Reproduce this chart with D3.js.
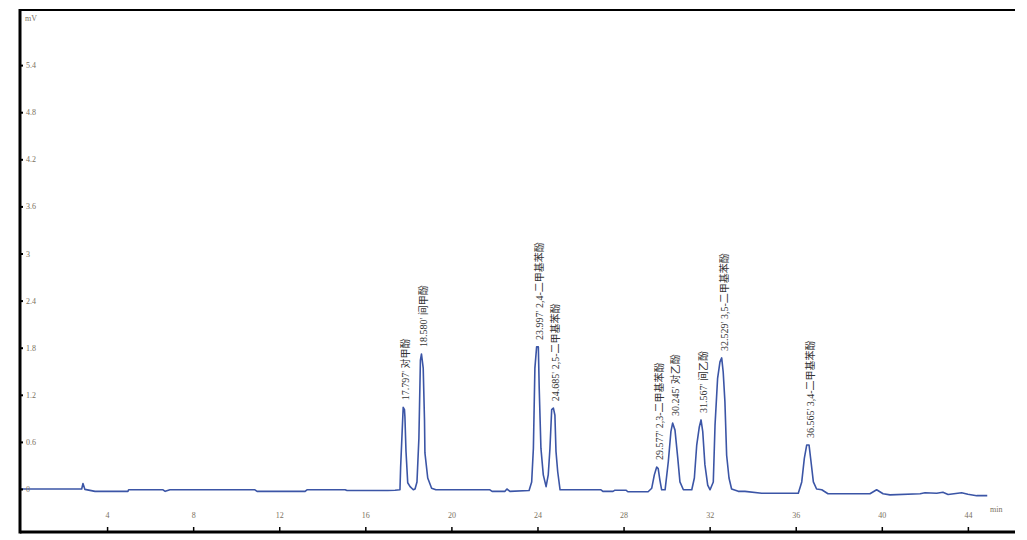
<!DOCTYPE html>
<html>
<head>
<meta charset="utf-8">
<script src="https://cdn.jsdelivr.net/npm/d3@7"></script>
<style>
  body { margin: 0; background: #fff; }
  svg { display: block; }
  .tick-label { font-family: "Liberation Serif", "Noto Sans CJK SC", serif; font-size: 8px; fill: #7a7060; }
  .peak-label { font-family: "Liberation Serif", "Noto Sans CJK SC", serif; font-size: 10px; fill: #333; }
</style>
</head>
<body>
<div id="chart"></div>
<script>
// chromatogram trace (time in min, signal in mV)
const times = [0, 2.82, 2.88, 2.97, 3.44, 4.97, 5.0, 6.6, 6.7, 6.92, 10.87, 10.97, 13.2, 13.29, 15.06, 15.15, 17.05, 17.38,
  17.61, 17.64, 17.76, 17.82, 17.84, 17.89, 17.97, 18.08, 18.23,
  18.31, 18.4, 18.49, 18.56, 18.61, 18.69, 18.75, 18.77, 18.9, 19.08, 19.28,
  21.79, 21.89, 22.49, 22.58, 22.72, 23.61,
  23.73, 23.81, 23.88, 23.96, 24.04, 24.08, 24.16, 24.27, 24.4,
  24.5, 24.58, 24.66, 24.74, 24.81, 24.86, 24.94, 25.05,
  26.95, 27.04, 27.51, 27.6, 28.11, 28.2, 29.14,
  29.31, 29.43, 29.54, 29.61, 29.69, 29.77, 29.93,
  30.08, 30.2, 30.28, 30.39, 30.52, 30.62, 30.78, 31.17,
  31.29, 31.4, 31.52, 31.6, 31.68, 31.78, 31.91, 32.02,
  32.17, 32.25, 32.37, 32.48, 32.56, 32.63, 32.71, 32.79, 32.9, 33.02, 33.33, 33.64, 34.42, 36.12,
  36.28, 36.4, 36.51, 36.62, 36.71, 36.82, 36.97, 37.21,
  37.5, 39.45, 39.76, 40.06, 40.38, 41.78, 42.01, 42.55, 42.84, 43.08, 43.71, 44.0, 44.41, 44.9];
const signal = [0, 0, 0.07, -0.005, -0.03, -0.03, -0.01, -0.01, -0.03, -0.01, -0.01, -0.03, -0.03, -0.01, -0.01, -0.02, -0.02, -0.015,
  -0.01, 0.27, 1.04, 1.01, 0.92, 0.48, 0.08, 0.03, -0.01,
  0, 0.09, 0.65, 1.64, 1.72, 1.54, 0.88, 0.46, 0.14, 0.01, -0.01,
  -0.01, -0.03, -0.03, 0.0, -0.03, -0.02,
  0.09, 0.52, 1.54, 1.81, 1.81, 1.29, 0.52, 0.18, 0.03,
  0.18, 0.52, 1.01, 1.03, 0.94, 0.48, 0.22, -0.01,
  -0.01, -0.03, -0.03, -0.015, -0.015, -0.035, -0.035,
  0.01, 0.18, 0.28, 0.26, 0.11, -0.01, -0.01,
  0.35, 0.73, 0.84, 0.75, 0.39, 0.09, -0.01, -0.01,
  0.14, 0.56, 0.79, 0.88, 0.73, 0.31, 0.05, -0.01,
  0.09, 0.81, 1.41, 1.62, 1.67, 1.49, 1.11, 0.43, 0.14, 0.0, -0.03, -0.03, -0.055, -0.055,
  0.09, 0.39, 0.56, 0.56, 0.35, 0.09, 0.0, -0.01,
  -0.06, -0.06, -0.01, -0.06, -0.075, -0.06, -0.047, -0.055, -0.042, -0.07, -0.047, -0.067, -0.085, -0.085];

// peak annotations
const peakTimes = [17.76, 18.61, 24.0, 24.74, 29.54, 30.28, 31.6, 32.56, 36.56];
const peakTops = [1.04, 1.72, 1.81, 1.03, 0.28, 0.84, 0.88, 1.67, 0.56];
const peakRT = ["17.797'", "18.580'", "23.997'", "24.685'", "29.577'", "30.245'", "31.567'", "32.529'", "36.565'"];
const peakNames = ["对甲酚", "间甲酚", "2,4-二甲基苯酚", "2,5-二甲基苯酚", "2,3-二甲基苯酚", "对乙酚", "间乙酚", "3,5-二甲基苯酚", "3,4-二甲基苯酚"];

// axis ticks
const xTicks = [4, 8, 12, 16, 20, 24, 28, 32, 36, 40, 44];
const yTicks = [0, 0.6, 1.2, 1.8, 2.4, 3, 3.6, 4.2, 4.8, 5.4];

const W = 1027, H = 540;
const plotLeft = 21, plotTop = 10, plotBottom = 532, plotRight = 1015;

const x = d3.scaleLinear().domain([0, 46]).range([plotLeft, plotLeft + 46 * 21.52]);
const y = d3.scaleLinear().domain([0, 6.1]).range([489, 489 - 6.1 * 78.5]);

const svg = d3.select("#chart").append("svg")
    .attr("width", W)
    .attr("height", H);

const trace = times.map((t, i) => [t, signal[i]]);

// trace
svg.append("path")
    .datum(trace)
    .attr("fill", "none")
    .attr("stroke", "#3b55a6")
    .attr("stroke-width", 1.6)
    .attr("stroke-linejoin", "round")
    .attr("d", d3.line().x(d => x(d[0])).y(d => y(d[1])));

// frame
svg.append("line").attr("x1", 20).attr("x2", plotRight).attr("y1", plotTop).attr("y2", plotTop)
    .attr("stroke", "#000").attr("stroke-width", 2);
svg.append("line").attr("x1", 20).attr("x2", 20).attr("y1", plotTop - 1).attr("y2", plotBottom + 1.5)
    .attr("stroke", "#000").attr("stroke-width", 3);

// x axis (ticks point up, labels above)
const xAxis = svg.append("g")
    .attr("transform", "translate(0," + plotBottom + ")")
    .call(d3.axisTop(x).tickValues(xTicks).tickSize(5).tickFormat(d3.format("d")));
xAxis.select(".domain").attr("d", "M20,0H" + plotRight).attr("stroke", "#000").attr("stroke-width", 3);
xAxis.selectAll(".tick line").attr("stroke", "#000").attr("stroke-width", 1.5);
xAxis.selectAll(".tick text").attr("class", "tick-label").attr("y", -14).attr("font-size", null).attr("font-family", null).attr("fill", null);

// y axis (ticks point in, labels inside)
const yAxis = svg.append("g")
    .attr("transform", "translate(20,0)")
    .call(d3.axisRight(y).tickValues(yTicks).tickSize(3).tickFormat(d => d));
yAxis.select(".domain").remove();
yAxis.selectAll(".tick line").attr("stroke", "#000").attr("stroke-width", 2);
yAxis.selectAll(".tick text").attr("class", "tick-label").attr("x", 6).attr("font-size", null).attr("font-family", null).attr("fill", null);

svg.append("text").attr("class", "tick-label").attr("x", 25).attr("y", 21).text("mV");
svg.append("text").attr("class", "tick-label").attr("x", 990).attr("y", 512).text("min");

// peak labels
svg.selectAll(".peak-label")
    .data(peakTimes)
    .enter().append("text")
    .attr("class", "peak-label")
    .attr("transform", (d, i) => "translate(" + (x(d) + 2.5) + "," + (y(peakTops[i]) - 7) + ") rotate(-90)")
    .attr("dy", "0.35em")
    .text((d, i) => peakRT[i] + " " + peakNames[i]);
</script>
</body>
</html>
